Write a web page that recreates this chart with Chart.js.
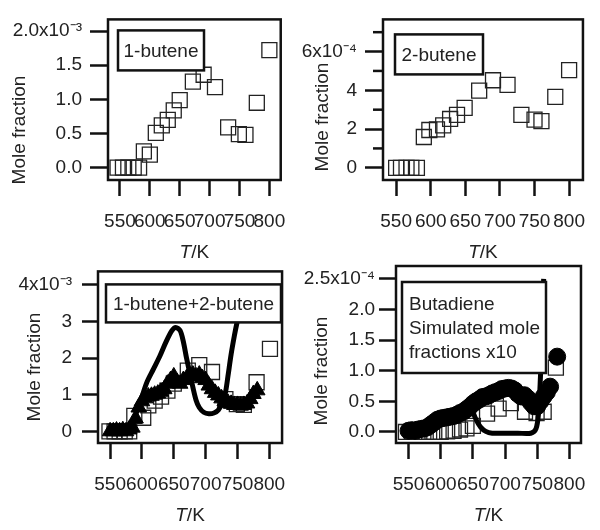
<!DOCTYPE html>
<html>
<head>
<meta charset="utf-8">
<script src="https://cdn.jsdelivr.net/npm/chart.js@4.4.0/dist/chart.umd.min.js"></script>
<style>
  body { margin: 0; background: #fff; }
  #wrap { position: relative; width: 600px; height: 530px; }
  canvas { position: absolute; }
</style>
</head>
<body>
<div id="wrap">
  <canvas id="c1" width="300" height="265" style="left:0;top:0"></canvas>
  <canvas id="c2" width="300" height="265" style="left:300px;top:0"></canvas>
  <canvas id="c3" width="300" height="280" style="left:0;top:250px"></canvas>
  <canvas id="c4" width="300" height="280" style="left:300px;top:250px"></canvas>
</div>
<script>
const FONT = '"Liberation Sans", Arial, sans-serif';
const xTicks = [550, 600, 650, 700, 750, 800];

// 1-butene, mole fraction in units of 1e-3
const temps1 = [546, 555, 564, 573, 582, 590, 600, 610, 620, 630, 640, 650, 672, 690, 709, 731, 749, 760, 779, 800];
const butene1 = [0, 0, 0, 0, 0, 0.24, 0.19, 0.51, 0.62, 0.70, 0.84, 0.99, 1.26, 1.36, 1.18, 0.59, 0.49, 0.48, 0.95, 1.72];

// 2-butene, units of 1e-4
const temps2 = [550, 557, 565, 572, 580, 590, 598, 609, 618, 628, 638, 649, 670, 690, 711, 731, 750, 760, 780, 800];
const butene2 = [0, 0, 0, 0, 0, 1.59, 1.95, 1.98, 2.19, 2.52, 2.73, 3.09, 3.98, 4.52, 4.28, 2.73, 2.49, 2.41, 3.66, 5.04];

// 1-butene+2-butene, units of 1e-3
const tempsSum = [549, 557, 565, 573, 580, 588, 602, 610, 620, 630, 640, 650, 672, 690, 710, 731, 749, 760, 780, 801];
const sumMeasured = [0, 0, 0, 0, 0, 0.42, 0.37, 0.71, 0.84, 0.95, 1.11, 1.30, 1.66, 1.81, 1.62, 0.88, 0.74, 0.72, 1.34, 2.25];
const tempsTri = [550, 555, 560, 565, 570, 575, 580, 585, 590, 595, 600, 605, 610, 615, 620, 625, 630, 635, 640, 645, 650, 655, 660, 665, 670, 675, 680, 685, 690, 695, 700, 705, 710, 715, 720, 725, 730, 735, 740, 745, 750, 755, 760, 765, 770, 775, 781];
const sumTriangles = [0, 0, 0.02, 0, 0.03, 0, 0.05, 0.1, 0.35, 0.65, 0.82, 0.9, 0.95, 0.97, 1.0, 1.03, 1.08, 1.15, 1.3, 1.4, 1.5, 1.35, 1.3, 1.4, 1.45, 1.5, 1.55, 1.5, 1.55, 1.45, 1.4, 1.25, 1.15, 1.05, 0.98, 0.9, 0.82, 0.78, 0.75, 0.72, 0.72, 0.7, 0.72, 0.76, 0.88, 1.02, 1.12];
const tempsSim3 = [585, 590, 600, 608, 618, 628, 638, 647, 653, 660, 665, 670, 675, 680, 685, 690, 697, 705, 713, 720, 726, 731, 735, 740, 745, 749, 755, 765, 780, 792, 801];
const sumSimulated = [0.2, 0.45, 0.95, 1.35, 1.7, 2.05, 2.45, 2.75, 2.84, 2.75, 2.45, 2.0, 1.6, 1.2, 0.85, 0.65, 0.52, 0.48, 0.5, 0.58, 0.8, 1.05, 1.5, 2.1, 2.6, 2.95, 3.4, 3.8, 3.9, 3.6, 3.1];

// butadiene, units of 1e-4 (circles: simulated x10)
const tempsBd = [546, 555, 564, 573, 582, 590, 600, 610, 620, 630, 640, 650, 672, 690, 709, 731, 749, 760, 779];
const butadieneMeas = [0, 0, 0, 0, 0, 0, 0, 0.01, 0.02, 0.04, 0.06, 0.10, 0.30, 0.38, 0.47, 0.33, 0.31, 0.33, 1.05];
const tempsCirc = [550, 555, 560, 565, 570, 575, 580, 585, 590, 595, 600, 605, 610, 615, 620, 625, 630, 635, 640, 645, 650, 655, 660, 665, 670, 675, 680, 685, 690, 695, 700, 705, 710, 715, 720, 725, 730, 735, 740, 745, 750, 755, 760, 765, 770, 781];
const butadieneCircles = [0.02, 0.03, 0.02, 0.04, 0.05, 0.06, 0.08, 0.12, 0.16, 0.2, 0.22, 0.23, 0.24, 0.25, 0.26, 0.28, 0.31, 0.33, 0.37, 0.41, 0.46, 0.5, 0.53, 0.57, 0.58, 0.6, 0.63, 0.65, 0.67, 0.7, 0.71, 0.72, 0.71, 0.68, 0.62, 0.58, 0.6, 0.55, 0.48, 0.42, 0.42, 0.5, 0.58, 0.65, 0.74, 1.23];
const tempsSim4 = [648, 655, 662, 670, 680, 700, 720, 740, 748, 752, 755, 758, 760];
const butadieneSim = [0.38, 0.2, 0.08, 0.01, -0.02, -0.02, -0.02, -0.02, 0.05, 0.3, 0.9, 1.7, 2.5];

// y axis ticks per panel
const yTicks1 = [0, 0.5, 1.0, 1.5, 2.0];
const yLabels1 = ['0.0', '0.5', '1.0', '1.5', '2.0x10⁻³'];
const yTicks2 = [0, 2, 4, 6];
const yLabels2 = ['0', '2', '4', '6x10⁻⁴'];
const yMinor2 = [1, 3, 5, 7];
const yTicks3 = [0, 1, 2, 3, 4];
const yLabels3 = ['0', '1', '2', '3', '4x10⁻³'];
const yTicks4 = [0, 0.5, 1.0, 1.5, 2.0, 2.5];
const yLabels4 = ['0.0', '0.5', '1.0', '1.5', '2.0', '2.5x10⁻⁴'];

const pts = (xs, ys) => xs.map((x, i) => ({ x: x, y: ys[i] }));

function squares(xs, ys) {
    return { data: pts(xs, ys), pointStyle: 'rect', pointRadius: 10.6, pointBorderWidth: 1.3,
             pointBorderColor: '#222', pointBackgroundColor: 'rgba(0,0,0,0)', order: 2 };
}
function filled(xs, ys, style, r) {
    return { data: pts(xs, ys), pointStyle: style, pointRadius: r, pointBorderWidth: 1,
             pointBorderColor: '#000', pointBackgroundColor: '#000', order: 1 };
}
function simLine(xs, ys) {
    return { data: pts(xs, ys), showLine: true, pointRadius: 0, borderColor: '#000',
             borderWidth: 5, tension: 0.3, order: 0 };
}

const panelDecor = {
    id: 'panelDecor',
    afterDatasetsDraw(chart, args, o) {
        const ctx = chart.ctx, a = chart.chartArea;
        ctx.save();
        // label box
        const b = o.box;
        const bx = a.left + b.dx, by = a.top + b.dy;
        ctx.fillStyle = '#fff';
        ctx.fillRect(bx, by, b.w, b.h);
        ctx.strokeStyle = '#111';
        ctx.lineWidth = 2.5;
        ctx.strokeRect(bx, by, b.w, b.h);
        ctx.fillStyle = '#222';
        ctx.font = '19px ' + FONT;
        ctx.textBaseline = 'middle';
        b.lines.forEach((t, i) => {
            if (b.left) {
                ctx.textAlign = 'left';
                ctx.fillText(t, bx + 7, by + 23 + i * 24);
            } else {
                ctx.textAlign = 'center';
                ctx.fillText(t, bx + b.w / 2, by + b.h / 2 + 1);
            }
        });
        // plot frame
        ctx.lineWidth = 2.5;
        ctx.strokeRect(a.left, a.top, a.right - a.left, a.bottom - a.top);
        // minor y ticks
        (o.minor || []).forEach(v => {
            const y = chart.scales.y.getPixelForValue(v);
            ctx.beginPath();
            ctx.moveTo(a.left - 10, y);
            ctx.lineTo(a.left, y);
            ctx.stroke();
        });
        ctx.restore();
    },
    afterDraw(chart, args, o) {
        const ctx = chart.ctx, a = chart.chartArea;
        ctx.save();
        ctx.fillStyle = '#222';
        ctx.textBaseline = 'middle';
        // x title: italic T + /K
        const cx = (a.left + a.right) / 2, cy = a.bottom + 73;
        ctx.font = 'italic 19px ' + FONT;
        const wT = ctx.measureText('T').width;
        ctx.font = '19px ' + FONT;
        const wK = ctx.measureText('/K').width;
        const x0 = cx - (wT + wK) / 2;
        ctx.textAlign = 'left';
        ctx.font = 'italic 19px ' + FONT;
        ctx.fillText('T', x0, cy);
        ctx.font = '19px ' + FONT;
        ctx.fillText('/K', x0 + wT, cy);
        // y title
        ctx.translate(o.yTitle[0], o.yTitle[1]);
        ctx.rotate(-Math.PI / 2);
        ctx.textAlign = 'center';
        ctx.fillText('Mole fraction', 0, 0);
        ctx.restore();
    }
};

function makePanel(id, p, datasets) {
    const canvas = document.getElementById(id);
    const W = canvas.width, H = canvas.height;
    return new Chart(canvas, {
        type: 'scatter',
        data: { datasets: datasets },
        plugins: [panelDecor],
        options: {
            responsive: false,
            animation: false,
            events: [],
            layout: { padding: { left: 0, top: p.top, right: W - p.right, bottom: 0 } },
            scales: {
                x: {
                    type: 'linear', min: p.xMin, max: p.xMax,
                    afterBuildTicks: s => { s.ticks = xTicks.map(v => ({ value: v })); },
                    afterFit: s => { s.height = H - p.bottom; },
                    ticks: { autoSkip: false, maxRotation: 0, padding: 14, color: '#222',
                             font: { size: 19, family: FONT }, callback: v => String(v) },
                    grid: { drawOnChartArea: false, tickLength: 16, tickWidth: 2.5, tickColor: '#111' },
                    border: { display: false }
                },
                y: {
                    type: 'linear', min: p.yMin, max: p.yMax,
                    afterBuildTicks: s => { s.ticks = p.yTicks.map(v => ({ value: v })); },
                    afterFit: s => { s.width = p.left; },
                    ticks: { autoSkip: false, padding: p.yPad, color: '#222',
                             font: { size: 19, family: FONT }, callback: (v, i) => p.yLabels[i] },
                    grid: { drawOnChartArea: false, tickLength: p.yTick, tickWidth: 2.5, tickColor: '#111' },
                    border: { display: false }
                }
            },
            plugins: {
                legend: { display: false },
                tooltip: { enabled: false },
                panelDecor: { box: p.box, minor: p.minor, yTitle: p.yTitle }
            }
        }
    });
}

makePanel('c1', {
    left: 108, right: 293, top: 13, bottom: 180,
    xMin: 530, xMax: 819, yMin: -0.18, yMax: 2.17,
    yTicks: yTicks1, yLabels: yLabels1, yTick: 18, yPad: 8,
    box: { dx: 10, dy: 11, w: 86, h: 40, lines: ['1-butene'] },
    yTitle: [20, 130]
}, [squares(temps1, butene1)]);

makePanel('c2', {
    left: 83, right: 285, top: 10, bottom: 180,
    xMin: 531, xMax: 820, yMin: -0.63, yMax: 7.66,
    yTicks: yTicks2, yLabels: yLabels2, yTick: 18, yPad: 8, minor: yMinor2,
    box: { dx: 12, dy: 15, w: 88, h: 40, lines: ['2-butene'] },
    yTitle: [23, 117]
}, [squares(temps2, butene2)]);

makePanel('c3', {
    left: 98, right: 297, top: 18, bottom: 193,
    xMin: 531, xMax: 820, yMin: -0.32, yMax: 4.37,
    yTicks: yTicks3, yLabels: yLabels3, yTick: 16, yPad: 10,
    box: { dx: 8, dy: 13, w: 175, h: 38, lines: ['1-butene+2-butene'] },
    yTitle: [35, 117]
}, [squares(tempsSum, sumMeasured), filled(tempsTri, sumTriangles, 'triangle', 9), simLine(tempsSim3, sumSimulated)]);

makePanel('c4', {
    left: 96, right: 288, top: 16, bottom: 193,
    xMin: 530.5, xMax: 818, yMin: -0.18, yMax: 2.71,
    yTicks: yTicks4, yLabels: yLabels4, yTick: 17, yPad: 4,
    box: { dx: 6, dy: 16, w: 144, h: 91, lines: ['Butadiene', 'Simulated mole', 'fractions x10'], left: true },
    yTitle: [22, 121]
}, [squares(tempsBd, butadieneMeas), filled(tempsCirc, butadieneCircles, 'circle', 8.5), simLine(tempsSim4, butadieneSim)]);
</script>
</body>
</html>
